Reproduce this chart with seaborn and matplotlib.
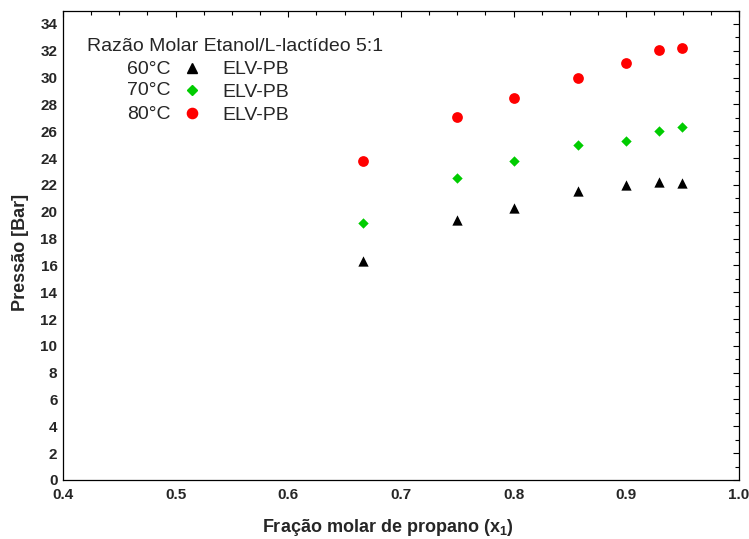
import numpy as np
import pandas as pd
import matplotlib
matplotlib.use("Agg")
import matplotlib.pyplot as plt
import seaborn as sns
from matplotlib.lines import Line2D
from matplotlib.ticker import MultipleLocator

# fração molar de propano
x1 = [0.666, 0.750, 0.800, 0.857, 0.900, 0.929, 0.949]
# pressão [bar] por temperatura
p60 = [16.3, 19.35, 20.25, 21.55, 22.0, 22.2, 22.15]
p70 = [19.15, 22.5, 23.8, 25.0, 25.3, 26.0, 26.3]
p80 = [23.8, 27.05, 28.5, 30.0, 31.05, 32.05, 32.2]

temps = ["60°C", "70°C", "80°C"]
series_label = "ELV-PB"
legend_title = "Razão Molar Etanol/L-lactídeo 5:1"

sns.set_style("white")
plt.rcParams['font.family'] = ['Liberation Sans', 'DejaVu Sans']

df = pd.DataFrame({
    "x": x1 * 3,
    "p": p60 + p70 + p80,
    "T": [temps[0]] * 7 + [temps[1]] * 7 + [temps[2]] * 7,
})

fig = plt.figure(figsize=(7.49, 5.39), dpi=100)
ax = fig.add_axes([0.0841, 0.1095, 0.9025, 0.871])

pal = {temps[0]: "black", temps[1]: "#00cc00", temps[2]: "#ff0000"}
mk = {temps[0]: "^", temps[1]: "D", temps[2]: "o"}
sz = {temps[0]: 55, temps[1]: 28, temps[2]: 60}
for t in temps:
    sub = df[df["T"] == t]
    sns.scatterplot(data=sub, x="x", y="p", color=pal[t], marker=mk[t],
                    s=sz[t], linewidth=0, ax=ax, legend=False)

ax.set_xlim(0.4, 1.0)
ax.set_ylim(0, 35)
ax.xaxis.set_major_locator(MultipleLocator(0.1))
ax.xaxis.set_minor_locator(MultipleLocator(0.025))
ax.yaxis.set_major_locator(MultipleLocator(2))
ax.yaxis.set_minor_locator(MultipleLocator(1))
ax.tick_params(which='both', direction='in', top=True, right=True,
               labeltop=False, labelright=False, color='black', width=0.8)
ax.tick_params(which='major', length=4)
ax.tick_params(which='minor', length=3)
for s in ax.spines.values():
    s.set_color('black')
    s.set_linewidth(0.9)

narrow = ['Liberation Sans Narrow', 'Liberation Sans']
ax.set_xticks(np.arange(0.4, 1.01, 0.1))
ax.set_xticklabels(["%.1f" % v for v in np.arange(0.4, 1.01, 0.1)],
                   family=narrow, fontweight='bold', fontsize=11)
ax.set_yticks(np.arange(0, 35, 2))
ax.set_yticklabels([str(v) for v in range(0, 35, 2)],
                   family=narrow, fontweight='bold', fontsize=11)
ax.tick_params(axis='x', pad=6)
ax.tick_params(axis='y', pad=4)

ax.set_xlabel("Fração molar de propano (x$_\\mathregular{1}$)", fontsize=13,
              fontweight='bold')
ax.xaxis.set_label_coords(0.48, -0.079)
ax.set_ylabel("Pressão [Bar]", fontsize=13, fontweight='bold')
ax.yaxis.set_label_coords(-0.050, 0.485)

# legenda
fs = 14
ax.text(0.0355, 0.924, legend_title, transform=ax.transAxes, fontsize=fs,
        va='center', ha='left')
rows_y = [0.8748, 0.829, 0.7795]
for t, yy in zip(temps, rows_y):
    ax.text(0.0947, yy, t, transform=ax.transAxes, fontsize=fs,
            va='center', ha='left')
handles = [Line2D([], [], linestyle='none', marker=mk[t], color=pal[t],
                  markersize=np.sqrt(sz[t]) * 0.95) for t in temps]
ax.legend(handles, [series_label] * 3, loc='upper left',
          bbox_to_anchor=(0.1765, 0.893), frameon=False, fontsize=fs,
          handlelength=1.0, handletextpad=1.05, labelspacing=0.27,
          borderpad=0, borderaxespad=0)

fig.savefig("out.png", dpi=100)
